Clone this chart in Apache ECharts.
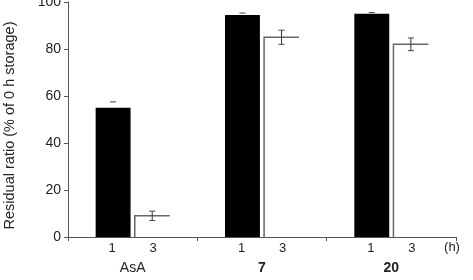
<!DOCTYPE html>
<html>
<head>
<meta charset="utf-8">
<script src="https://cdn.jsdelivr.net/npm/echarts@6/dist/echarts.min.js"></script>
<style>
  html, body { margin: 0; padding: 0; background: #fff; }
  #chart { width: 473px; height: 280px; }
</style>
</head>
<body>
<div id="chart"></div>
<script>
// groups on the x axis, bars are 1 h and 3 h
var categories = ['AsA', '7', '20'];
var hourLabels = ['1', '3'];
var oneHour = [55, 94.5, 95];
var oneHourErr = [2.5, 0.8, 0.5];
var threeHour = [9, 85, 82];
var threeHourErr = [2, 3, 2.7];
var yTicks = [0, 20, 40, 60, 80, 100];

var BAR_W = 0.27;   // fraction of band
var BAR_GAP = 0.12; // fraction of bar width

function barCenter(api, idx, side) {
  var band = api.size([1, 0])[0];
  var w = band * BAR_W;
  var c = api.coord([idx, 0])[0];
  return { x: c + side * (w + w * BAR_GAP) / 2, w: w };
}

var outlineData = threeHour.map(function (v, i) { return [i, v]; });
var errData = [];
oneHour.forEach(function (v, i) { errData.push([i, v, oneHourErr[i], -1]); });
threeHour.forEach(function (v, i) { errData.push([i, v, threeHourErr[i], 1]); });

var chart = echarts.init(document.getElementById('chart'));
chart.setOption({
  animation: false,
  textStyle: { fontFamily: 'Liberation Sans, Arial, sans-serif' },
  grid: { left: 68, right: 17, top: 2, bottom: 43, containLabel: false, outerBoundsMode: 'none' },
  xAxis: {
    type: 'category',
    data: categories,
    axisLine: { lineStyle: { color: '#555', width: 1 } },
    axisTick: { show: true, length: 4, lineStyle: { color: '#555' } },
    name: '(h)',
    nameLocation: 'end',
    nameGap: -4,
    nameTextStyle: { color: '#222', fontSize: 13, align: 'center', verticalAlign: 'top', padding: [4, 0, 0, 0] },
    axisLabel: {
      margin: 1,
      formatter: function (v) {
        var g = v === 'AsA' ? 'g' : 'gb';
        return '{h|' + hourLabels[0] + '}{h|' + hourLabels[1] + '}\n{' + g + '|' + v + '}';
      },
      rich: {
        h: { width: 41, align: 'center', fontSize: 13, lineHeight: 20, color: '#222' },
        g: { fontSize: 14, lineHeight: 20, color: '#222' },
        gb: { fontSize: 14, lineHeight: 20, color: '#222', fontWeight: 'bold' }
      }
    }
  },
  yAxis: {
    type: 'value',
    min: 0, max: 100, interval: 20,
    name: 'Residual ratio (% of 0 h storage)',
    nameLocation: 'middle',
    nameGap: 51,
    nameTextStyle: { color: '#222', fontSize: 14.5, padding: [0, 12, 0, 0] },
    axisLine: { show: true, lineStyle: { color: '#555' } },
    axisTick: { show: true, length: 4, lineStyle: { color: '#555' } },
    splitLine: { show: false },
    axisLabel: {
      margin: 7, fontSize: 14, color: '#222',
      formatter: function (v) { return yTicks.indexOf(v) >= 0 ? String(v) : ''; }
    }
  },
  series: [
    {
      type: 'bar', data: oneHour, barWidth: (BAR_W * 100) + '%', barGap: (BAR_GAP * 100) + '%',
      itemStyle: { color: '#000' }
    },
    {
      type: 'bar', data: threeHour, barWidth: (BAR_W * 100) + '%', barGap: (BAR_GAP * 100) + '%',
      itemStyle: { color: '#fff' }
    },
    {
      // white bars: only left and top edges show in the original
      type: 'custom',
      data: outlineData,
      encode: { x: 0, y: 1 },
      renderItem: function (params, api) {
        var i = api.value(0);
        var b = barCenter(api, i, 1);
        var y0 = api.coord([i, 0])[1];
        var y1 = api.coord([i, api.value(1)])[1];
        var x0 = b.x - b.w / 2;
        return {
          type: 'polyline',
          shape: { points: [[x0, y0], [x0, y1], [x0 + b.w, y1]] },
          style: { stroke: '#666', lineWidth: 1.5, fill: null }
        };
      },
      z: 3
    },
    {
      type: 'custom',
      data: errData,
      encode: { x: 0, y: 1 },
      renderItem: function (params, api) {
        var i = api.value(0);
        var side = api.value(3);
        var b = barCenter(api, i, side);
        var yTop = api.coord([i, api.value(1) + api.value(2)])[1];
        var yBot = api.coord([i, api.value(1) - api.value(2)])[1];
        var cw = 3;
        var capTop = { type: 'line', shape: { x1: b.x - cw, y1: yTop, x2: b.x + cw, y2: yTop }, style: { stroke: '#444', lineWidth: 1 } };
        if (side < 0) {
          // black bars: only the upper cap stands out
          return capTop;
        }
        return {
          type: 'group',
          children: [
            { type: 'line', shape: { x1: b.x, y1: yTop, x2: b.x, y2: yBot }, style: { stroke: '#333', lineWidth: 1 } },
            capTop,
            { type: 'line', shape: { x1: b.x - cw, y1: yBot, x2: b.x + cw, y2: yBot }, style: { stroke: '#444', lineWidth: 1 } }
          ]
        };
      },
      z: 4
    }
  ]
});
</script>
</body>
</html>
